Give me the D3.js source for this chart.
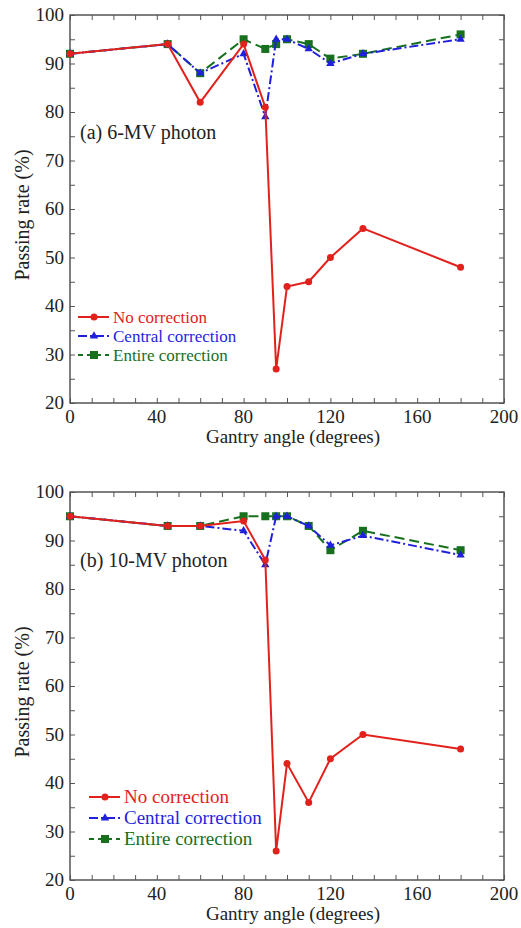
<!DOCTYPE html>
<html>
<head>
<meta charset="utf-8">
<script src="https://cdn.jsdelivr.net/npm/d3@7"></script>
<style>
  body { margin: 0; background: #fff; }
</style>
</head>
<body>
<div id="chart"></div>
<script>
// gantry angles (degrees)
var angles = [0, 45, 60, 80, 90, 95, 100, 110, 120, 135, 180]

// (a) 6-MV photon
var noCorr6 = [92, 94, 82, 94, 81, 27, 44, 45, 50, 56, 48]
var central6 = [92, 94, 88, 92, 79, 95, 95, 93, 90, 92, 95]
var entire6 = [92, 94, 88, 95, 93, 94, 95, 94, 91, 92, 96]

// (b) 10-MV photon
var noCorr10 = [95, 93, 93, 94, 86, 26, 44, 36, 45, 50, 47]
var central10 = [95, 93, 93, 92, 85, 95, 95, 93, 89, 91, 87]
var entire10 = [95, 93, 93, 95, 95, 95, 95, 93, 88, 92, 88]

var xTicks = [0, 40, 80, 120, 160, 200]
var yTicks = [20, 30, 40, 50, 60, 70, 80, 90, 100]
var seriesNames = ["No correction", "Central correction", "Entire correction"]

var red = "#e3211c",
    blue = "#1f1fdc",
    green = "#17701e"

var svg = d3.select("#chart")
    .append("svg")
    .attr("width", 521)
    .attr("height", 928)
    .attr("font-family", "'Liberation Serif', 'Times New Roman', serif")

var x = d3.scaleLinear().domain([0, 200]).range([70, 504])

function drawPanel(top, label, labelY, noCorr, central, entire, leg) {
    var y = d3.scaleLinear().domain([20, 100]).range([top + 388, top])
    var g = svg.append("g")

    // frame
    g.append("rect")
        .attr("x", x(0))
        .attr("y", y(100))
        .attr("width", x(200) - x(0))
        .attr("height", y(20) - y(100))
        .attr("fill", "none")
        .attr("stroke", "#3a3a3a")
        .attr("stroke-width", 1.3)

    // inward ticks on all four sides
    var xMinor = d3.range(0, 201, 10)
    var yMinor = d3.range(20, 101, 5)
    g.append("g")
        .attr("transform", "translate(0," + y(20) + ")")
        .call(d3.axisTop(x).tickValues(xMinor).tickSize(5).tickFormat(""))
    g.append("g")
        .attr("transform", "translate(0," + y(100) + ")")
        .call(d3.axisBottom(x).tickValues(xMinor).tickSize(5).tickFormat(""))
    g.append("g")
        .attr("transform", "translate(" + x(0) + ",0)")
        .call(d3.axisRight(y).tickValues(yMinor).tickSize(5).tickFormat(""))
    g.append("g")
        .attr("transform", "translate(" + x(200) + ",0)")
        .call(d3.axisLeft(y).tickValues(yMinor).tickSize(5).tickFormat(""))
    g.selectAll(".domain").remove()
    g.selectAll(".tick line").attr("stroke", "#555").attr("stroke-width", 1)

    // tick labels
    g.selectAll(".xlab")
        .data(xTicks)
        .enter().append("text")
        .attr("x", function (d) { return x(d) })
        .attr("y", y(20) + 20)
        .attr("text-anchor", "middle")
        .attr("font-size", 19)
        .attr("fill", "#222")
        .text(function (d) { return d })

    g.selectAll(".ylab")
        .data(yTicks)
        .enter().append("text")
        .attr("x", x(0) - 6)
        .attr("y", function (d) { return y(d) + 6 })
        .attr("text-anchor", "end")
        .attr("font-size", 19)
        .attr("fill", "#222")
        .text(function (d) { return d })

    // axis titles
    g.append("text")
        .attr("x", 293)
        .attr("y", y(20) + 40)
        .attr("text-anchor", "middle")
        .attr("font-size", 19)
        .attr("fill", "#222")
        .text("Gantry angle (degrees)")

    g.append("text")
        .attr("transform", "translate(29," + (top + 200) + ") rotate(-90)")
        .attr("text-anchor", "middle")
        .attr("font-size", 20)
        .attr("fill", "#222")
        .text("Passing rate (%)")

    g.append("text")
        .attr("x", 80)
        .attr("y", labelY)
        .attr("font-size", 20)
        .attr("fill", "#222")
        .text(label)

    var line = d3.line()
        .x(function (d) { return x(d[0]) })
        .y(function (d) { return y(d[1]) })

    function pairs(vals) {
        return angles.map(function (a, i) { return [a, vals[i]] })
    }

    // entire correction (green dashed, squares)
    g.append("path")
        .attr("d", line(pairs(entire)))
        .attr("fill", "none")
        .attr("stroke", green)
        .attr("stroke-width", 2)
        .attr("stroke-dasharray", "10,5")
    g.selectAll(".sq")
        .data(pairs(entire))
        .enter().append("rect")
        .attr("x", function (d) { return x(d[0]) - 4 })
        .attr("y", function (d) { return y(d[1]) - 4 })
        .attr("width", 8)
        .attr("height", 8)
        .attr("fill", green)

    // central correction (blue dash-dot, triangles)
    g.append("path")
        .attr("d", line(pairs(central)))
        .attr("fill", "none")
        .attr("stroke", blue)
        .attr("stroke-width", 2)
        .attr("stroke-dasharray", "9,3,2,3")
    g.selectAll(".tri")
        .data(pairs(central))
        .enter().append("path")
        .attr("d", d3.symbol().type(d3.symbolTriangle).size(30))
        .attr("transform", function (d) { return "translate(" + x(d[0]) + "," + y(d[1]) + ")" })
        .attr("fill", blue)

    // no correction (red solid, circles)
    g.append("path")
        .attr("d", line(pairs(noCorr)))
        .attr("fill", "none")
        .attr("stroke", red)
        .attr("stroke-width", 2)
    g.selectAll(".dot")
        .data(pairs(noCorr))
        .enter().append("circle")
        .attr("cx", function (d) { return x(d[0]) })
        .attr("cy", function (d) { return y(d[1]) })
        .attr("r", 3.5)
        .attr("fill", red)

    // legend
    var colors = [red, blue, green]
    var dashes = [null, "9,3,2,3", "5,4"]
    seriesNames.forEach(function (name, i) {
        var cy = leg.y[i]
        g.append("line")
            .attr("x1", leg.x)
            .attr("x2", leg.x + 31)
            .attr("y1", cy)
            .attr("y2", cy)
            .attr("stroke", colors[i])
            .attr("stroke-width", 2)
            .attr("stroke-dasharray", dashes[i])
        var mx = leg.x + 16
        if (i == 0) {
            g.append("circle").attr("cx", mx).attr("cy", cy).attr("r", 3.5).attr("fill", red)
        } else if (i == 1) {
            g.append("path")
                .attr("d", d3.symbol().type(d3.symbolTriangle).size(30))
                .attr("transform", "translate(" + mx + "," + cy + ")")
                .attr("fill", blue)
        } else {
            g.append("rect").attr("x", mx - 4).attr("y", cy - 4).attr("width", 8).attr("height", 8).attr("fill", green)
        }
        g.append("text")
            .attr("x", leg.x + 35)
            .attr("y", cy + 6)
            .attr("font-size", leg.size)
            .attr("fill", colors[i])
            .text(name)
    })
}

drawPanel(15, "(a) 6-MV photon", 139, noCorr6, central6, entire6, { x: 78, y: [317, 336, 355], size: 17 })
drawPanel(492, "(b) 10-MV photon", 567, noCorr10, central10, entire10, { x: 89, y: [797, 818, 839], size: 19 })
</script>
</body>
</html>
